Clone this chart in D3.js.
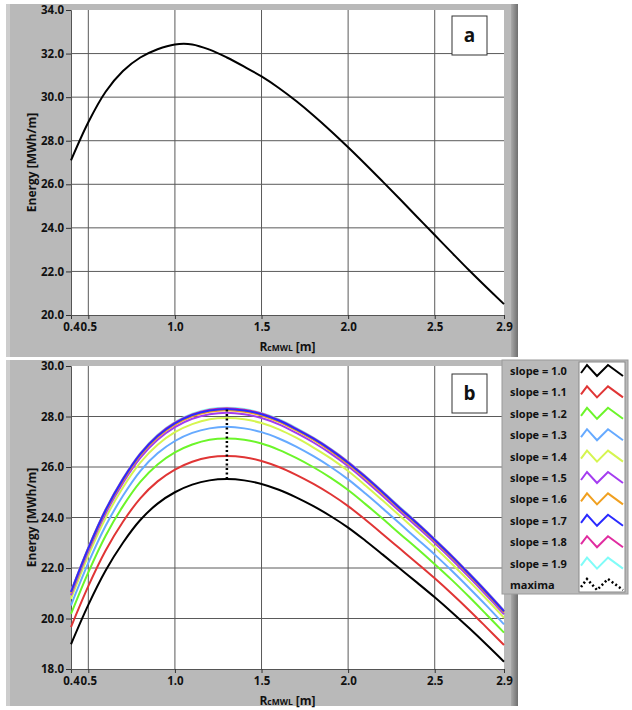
<!DOCTYPE html>
<html>
<head>
<meta charset="utf-8">
<script src="https://cdn.jsdelivr.net/npm/d3@7"></script>
<style>
  body { margin: 0; background: #fff; }
  svg text { font-family: "Open Sans", "DejaVu Sans", sans-serif; font-weight: 700; fill: #111; }
</style>
</head>
<body>
<div class="container"></div>
<script>
var width = 632,
    height = 710;

// x values (R_cMWL, m)
var rValues = [0.4, 0.5, 0.6, 0.7, 0.8, 0.9, 1.0, 1.1, 1.2, 1.3, 1.4, 1.5, 1.6,
               1.7, 1.8, 1.9, 2.0, 2.1, 2.2, 2.3, 2.4, 2.5, 2.6, 2.7, 2.8, 2.9];
var xTicks = [0.4, 0.5, 1.0, 1.5, 2.0, 2.5, 2.9];
var yTicksA = [20, 22, 24, 26, 28, 30, 32, 34];
var yTicksB = [18, 20, 22, 24, 26, 28, 30];

// panel a
var energyA = [27.10, 28.85, 30.25, 31.20, 31.82, 32.20, 32.42, 32.42, 32.18, 31.82, 31.40, 30.95, 30.42,
               29.82, 29.16, 28.45, 27.70, 26.92, 26.12, 25.31, 24.49, 23.67, 22.85, 22.04, 21.26, 20.50];

// panel b, one array per slope
var slopes = ['slope = 1.0', 'slope = 1.1', 'slope = 1.2', 'slope = 1.3', 'slope = 1.4',
              'slope = 1.5', 'slope = 1.6', 'slope = 1.7', 'slope = 1.8', 'slope = 1.9'];
var colors = ['#000000', '#e03535', '#6cf52a', '#66aaff', '#d5f550',
              '#a43cf0', '#f0a020', '#2a2aff', '#e02ca0', '#80fcf8'];
var e10 = [18.98, 20.54, 21.90, 23.00, 23.90, 24.55, 25.00, 25.30, 25.47, 25.52, 25.47, 25.33, 25.10,
           24.80, 24.45, 24.05, 23.60, 23.08, 22.53, 21.97, 21.41, 20.84, 20.24, 19.61, 18.96, 18.29];
var e11 = [19.66, 21.28, 22.69, 23.83, 24.76, 25.43, 25.90, 26.21, 26.39, 26.44, 26.39, 26.24, 26.00,
           25.69, 25.33, 24.92, 24.45, 23.91, 23.34, 22.76, 22.18, 21.59, 20.97, 20.32, 19.64, 18.95];
var e12 = [20.18, 21.83, 23.28, 24.45, 25.41, 26.10, 26.58, 26.89, 27.08, 27.13, 27.08, 26.93, 26.68,
           26.36, 25.99, 25.57, 25.09, 24.53, 23.95, 23.35, 22.76, 22.15, 21.52, 20.85, 20.15, 19.44];
var e13 = [20.52, 22.20, 23.67, 24.86, 25.84, 26.54, 27.03, 27.35, 27.53, 27.59, 27.53, 27.38, 27.13,
           26.81, 26.43, 26.00, 25.51, 24.95, 24.36, 23.75, 23.14, 22.53, 21.88, 21.20, 20.50, 19.77];
var e14 = [20.78, 22.49, 23.98, 25.19, 26.17, 26.88, 27.38, 27.70, 27.89, 27.94, 27.89, 27.74, 27.49,
           27.16, 26.77, 26.34, 25.84, 25.27, 24.67, 24.06, 23.44, 22.82, 22.16, 21.47, 20.76, 20.03];
var e15 = [20.93, 22.66, 24.16, 25.37, 26.36, 27.08, 27.58, 27.91, 28.09, 28.15, 28.09, 27.94, 27.69,
           27.35, 26.97, 26.53, 26.03, 25.46, 24.85, 24.23, 23.62, 22.99, 22.33, 21.63, 20.91, 20.17];
var e16 = [21.01, 22.74, 24.25, 25.46, 26.46, 27.18, 27.68, 28.01, 28.19, 28.25, 28.19, 28.04, 27.79,
           27.45, 27.07, 26.63, 26.12, 25.55, 24.94, 24.32, 23.71, 23.07, 22.41, 21.71, 20.99, 20.24];
var e17 = [21.05, 22.78, 24.29, 25.51, 26.51, 27.23, 27.73, 28.06, 28.24, 28.30, 28.24, 28.09, 27.84,
           27.50, 27.12, 26.68, 26.17, 25.60, 24.99, 24.36, 23.75, 23.11, 22.45, 21.75, 21.03, 20.28];
var e18 = [21.07, 22.80, 24.31, 25.53, 26.53, 27.25, 27.76, 28.08, 28.27, 28.33, 28.27, 28.12, 27.86,
           27.52, 27.14, 26.70, 26.20, 25.62, 25.01, 24.38, 23.77, 23.13, 22.47, 21.77, 21.05, 20.30];
var e19 = [21.09, 22.82, 24.33, 25.55, 26.55, 27.28, 27.78, 28.11, 28.30, 28.35, 28.30, 28.14, 27.89,
           27.55, 27.16, 26.72, 26.22, 25.64, 25.03, 24.41, 23.79, 23.15, 22.49, 21.79, 21.07, 20.32];
var seriesB = [e10, e11, e12, e13, e14, e15, e16, e17, e18, e19];

// maxima line
var maximaR = 1.3;
var maximaE = [25.52, 26.44, 27.13, 27.59, 27.94, 28.15, 28.25, 28.30, 28.33, 28.35];

var svg = d3.select('.container').append('svg')
    .attr('width', width)
    .attr('height', height);

var defs = svg.append('defs');
var grad = defs.append('linearGradient').attr('id', 'edge');
grad.append('stop').attr('offset', '0%').attr('stop-color', '#a9a9a9');
grad.append('stop').attr('offset', '100%').attr('stop-color', '#6f6f6f');

var x = d3.scaleLinear().domain([0.4, 2.9]).range([71, 504]);

var drawPanel = (top, bottom) => {
    svg.append('rect').attr('x', 6).attr('y', top).attr('width', 512).attr('height', bottom - top)
        .attr('fill', '#b9b9b9');
    svg.append('rect').attr('x', 6).attr('y', top).attr('width', 4).attr('height', bottom - top)
        .attr('fill', '#cdcdcd');
    svg.append('rect').attr('x', 511).attr('y', top).attr('width', 7).attr('height', bottom - top)
        .attr('fill', 'url(#edge)');
};

var drawChart = (y, yTicks, plotTop, plotBottom, label, boxY) => {
    var g = svg.append('g');

    g.append('rect')
        .attr('x', x.range()[0]).attr('y', plotTop)
        .attr('width', x.range()[1] - x.range()[0]).attr('height', plotBottom - plotTop)
        .attr('fill', '#fff');

    // grid
    g.append('g').selectAll('line')
        .data(xTicks.slice(1, -1))
        .enter().append('line')
        .attr('x1', (d) => x(d)).attr('x2', (d) => x(d))
        .attr('y1', plotTop).attr('y2', plotBottom)
        .attr('stroke', '#5a5a5a').attr('stroke-width', 1);
    g.append('g').selectAll('line')
        .data(yTicks.slice(1, -1))
        .enter().append('line')
        .attr('x1', x.range()[0]).attr('x2', x.range()[1])
        .attr('y1', (d) => y(d)).attr('y2', (d) => y(d))
        .attr('stroke', '#5a5a5a').attr('stroke-width', 1);

    // axes
    var xAxis = g.append('g')
        .attr('transform', 'translate(0,' + plotBottom + ')')
        .call(d3.axisBottom(x).tickValues(xTicks).tickSize(4).tickPadding(4).tickFormat(d3.format('.1f')));
    var yAxis = g.append('g')
        .attr('transform', 'translate(' + x.range()[0] + ',0)')
        .call(d3.axisLeft(y).tickValues(yTicks).tickSize(5).tickPadding(2).tickFormat(d3.format('.1f')));
    [xAxis, yAxis].forEach((a) => {
        a.select('.domain').attr('stroke', '#555');
        a.selectAll('.tick line').attr('stroke', '#333');
        a.selectAll('text').style('font-size', '11.5px').attr('fill', '#111');
    });

    // titles
    g.append('text')
        .attr('transform', 'translate(36,' + ((plotTop + plotBottom) / 2) + ') rotate(-90)')
        .attr('text-anchor', 'middle')
        .style('font-size', '12px')
        .text('Energy [MWh/m]');
    var xt = g.append('text')
        .attr('x', (x.range()[0] + x.range()[1]) / 2)
        .attr('y', plotBottom + 36)
        .attr('text-anchor', 'middle')
        .style('font-size', '12px');
    xt.append('tspan').text('R');
    xt.append('tspan').style('font-size', '8.5px').text('cMWL');
    xt.append('tspan').text(' [m]');

    // label box
    g.append('rect').attr('x', 452).attr('y', boxY).attr('width', 35).attr('height', 39)
        .attr('fill', '#fff').attr('stroke', '#333').attr('stroke-width', 1);
    g.append('text').attr('x', 469.5).attr('y', boxY + 26).attr('text-anchor', 'middle')
        .style('font-size', '19px').text(label);

    return g;
};

// panel a
drawPanel(4, 357);
var yA = d3.scaleLinear().domain([20, 34]).range([315, 10]);
var gA = drawChart(yA, yTicksA, 10, 315, 'a', 16);
var lineA = d3.line().x((d) => x(d[0])).y((d) => yA(d[1])).curve(d3.curveCatmullRom.alpha(0.5));
gA.append('path')
    .datum(rValues.map((r, i) => [r, energyA[i]]))
    .attr('d', lineA)
    .attr('fill', 'none').attr('stroke', '#000').attr('stroke-width', 2);

// panel b
drawPanel(360, 706);
var yB = d3.scaleLinear().domain([18, 30]).range([669, 366]);
var gB = drawChart(yB, yTicksB, 366, 669, 'b', 374);
var lineB = d3.line().x((d) => x(d[0])).y((d) => yB(d[1])).curve(d3.curveCatmullRom.alpha(0.5));
var drawOrder = [9, 8, 0, 1, 2, 3, 4, 5, 6, 7];
gB.append('g').selectAll('path')
    .data(drawOrder)
    .enter().append('path')
    .attr('d', (k) => lineB(rValues.map((r, i) => [r, seriesB[k][i]])))
    .attr('fill', 'none')
    .attr('stroke', (k) => colors[k])
    .attr('stroke-width', 2);
gB.append('line')
    .attr('x1', x(maximaR)).attr('x2', x(maximaR))
    .attr('y1', yB(d3.min(maximaE))).attr('y2', yB(d3.max(maximaE)))
    .attr('stroke', '#000').attr('stroke-width', 2.5).attr('stroke-dasharray', '2,2.5');

// legend
var legendItems = slopes.concat(['maxima']);
var lg = svg.append('g');
lg.append('rect').attr('x', 502).attr('y', 360).attr('width', 126).attr('height', 234)
    .attr('fill', '#b9b9b9').attr('stroke', '#9a9a9a');
lg.append('rect').attr('x', 579).attr('y', 362).attr('width', 46).attr('height', 230)
    .attr('fill', '#fff').attr('stroke', '#8a8a8a');
var rowH = 21.4;
var row = lg.selectAll('.row')
    .data(legendItems)
    .enter().append('g')
    .attr('class', 'row')
    .attr('transform', (_, i) => 'translate(0,' + (371 + i * rowH) + ')');
row.append('text')
    .attr('x', 510).attr('y', 4)
    .style('font-size', '11px')
    .text((d) => d);
var zig = d3.line();
row.append('path')
    .attr('d', zig([[581, 2], [587, -6], [597, 5], [608, -6], [623, 5]]))
    .attr('fill', 'none')
    .attr('stroke', (_, i) => i < colors.length ? colors[i] : '#000')
    .attr('stroke-width', (_, i) => i < colors.length ? 2 : 2.5)
    .attr('stroke-dasharray', (_, i) => i < colors.length ? null : '2,2.5');
</script>
</body>
</html>
